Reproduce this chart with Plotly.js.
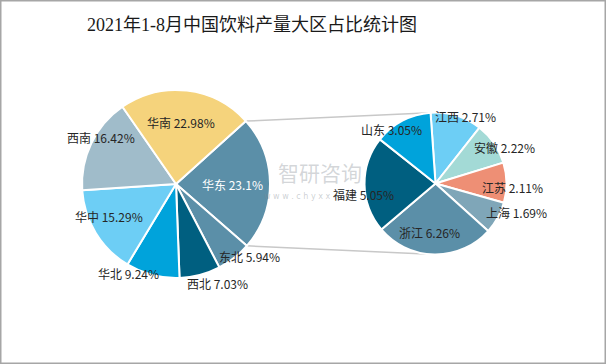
<!DOCTYPE html>
<html>
<head>
<meta charset="utf-8">
<script src="https://cdn.plot.ly/plotly-3.0.1.min.js"></script>
<style>
html,body{margin:0;padding:0;background:#fff;}
#chart{width:606px;height:364px;}
</style>
</head>
<body>
<div id="chart"></div>
<script>
// ---- data ----
const regionLabels = ['华东', '东北', '西北', '华北', '华中', '西南', '华南'];
const regionValues = [23.1, 5.94, 7.03, 9.24, 15.29, 16.42, 22.98];
const provinceLabels = ['江西', '安徽', '江苏', '上海', '浙江', '福建', '山东'];
const provinceValues = [2.71, 2.22, 2.11, 1.69, 6.26, 5.05, 3.05];
const titleText = '2021年1-8月中国饮料产量大区占比统计图';

// ---- styles ----
const W = 606, H = 364;
const regionColors = ['#5B8FA8', '#5B8FA8', '#005F80', '#00A3DB', '#6DCEF5', '#A0BCCA', '#F5D37C'];
const provinceColors = ['#6DCEF5', '#A3DAD6', '#EE8F75', '#7FA6B8', '#5B8FA8', '#005F80', '#00A3DB'];
const leftGeo = {cx: 176, cy: 184, r: 94, rotation: 48};
const rightGeo = {cx: 435.5, cy: 183.5, r: 71, rotation: -4};
// label placement per slice: [angle tweak (deg), radius factor]
const leftLabelPos = [[1, 0.60], [-7, 1.10], [-8, 1.15], [13.5, 1.08], [5.5, 0.79], [6, 0.94], [-2, 0.66]];
const rightLabelPos = [[7, 1.04], [7, 1.09], [4, 1.08], [-9, 1.21], [6.5, 0.70], [-8, 1.02], [-11, 0.98]];
const leftTextColors = ['#ffffff', '#262626', '#262626', '#262626', '#262626', '#262626', '#262626'];
const labelFont = 'Noto Sans CJK SC, Noto Sans, sans-serif';

function domainOf(g) {
  return {
    x: [(g.cx - g.r) / W, (g.cx + g.r) / W],
    y: [1 - (g.cy + g.r) / H, 1 - (g.cy - g.r) / H]
  };
}
function pt(g, angDeg, f) {
  const a = angDeg * Math.PI / 180;
  const px = g.cx + f * g.r * Math.sin(a);
  const py = g.cy - f * g.r * Math.cos(a);
  return [px / W, 1 - py / H];
}
function fmt(v) { return v + '%'; }

const traces = [
  {
    type: 'pie', labels: regionLabels, values: regionValues, sort: false,
    direction: 'clockwise', rotation: leftGeo.rotation, domain: domainOf(leftGeo),
    marker: {colors: regionColors, line: {color: '#ffffff', width: 2}},
    textinfo: 'none', hoverinfo: 'label+percent', showlegend: false
  },
  {
    type: 'pie', labels: provinceLabels, values: provinceValues, sort: false,
    direction: 'clockwise', rotation: rightGeo.rotation, domain: domainOf(rightGeo),
    marker: {colors: provinceColors, line: {color: '#ffffff', width: 2}},
    textinfo: 'none', hoverinfo: 'label+value', showlegend: false
  }
];

const annotations = [];
function addLabels(labels, values, g, placements, colors) {
  const total = values.reduce((a, b) => a + b, 0);
  let start = g.rotation;
  labels.forEach((lab, i) => {
    const span = values[i] / total * 360;
    const mid = start + span / 2;
    const p = pt(g, mid + placements[i][0], placements[i][1]);
    annotations.push({
      xref: 'paper', yref: 'paper', x: p[0], y: p[1],
      xanchor: 'center', yanchor: 'middle', showarrow: false,
      text: lab + ' ' + fmt(values[i]),
      font: {family: labelFont, size: 12, color: colors ? colors[i] : '#262626'}
    });
    start += span;
  });
}
addLabels(regionLabels, regionValues, leftGeo, leftLabelPos, leftTextColors);
addLabels(provinceLabels, provinceValues, rightGeo, rightLabelPos, null);

// watermark
annotations.push({xref: 'paper', yref: 'paper', x: 320 / W, y: 1 - 172 / H, showarrow: false,
  text: '智研咨询', font: {family: labelFont, size: 21, color: 'rgba(130,138,146,0.35)'}});
annotations.push({xref: 'paper', yref: 'paper', x: 262 / W, xanchor: 'left', y: 1 - 196 / H, showarrow: false,
  text: 'w w w . c h y x x', font: {family: 'DejaVu Sans, sans-serif', size: 8, color: 'rgba(130,138,146,0.4)'}});

// connector lines from the first (exploded) region slice to the secondary pie
const regionTotal = regionValues.reduce((a, b) => a + b, 0);
const a0 = leftGeo.rotation;
const a1 = leftGeo.rotation + regionValues[0] / regionTotal * 360;
const p0 = pt(leftGeo, a0, 1), p1 = pt(leftGeo, a1, 1);
const rTop = pt(rightGeo, rightGeo.rotation, 1);
const rBot = pt(rightGeo, 180 - rightGeo.rotation, 1);

const shapes = [
  {type: 'line', xref: 'paper', yref: 'paper', x0: p0[0], y0: p0[1], x1: rTop[0], y1: rTop[1],
   line: {color: '#C8C8C8', width: 1.5}, layer: 'below'},
  {type: 'line', xref: 'paper', yref: 'paper', x0: p1[0], y0: p1[1], x1: rBot[0], y1: rBot[1],
   line: {color: '#C8C8C8', width: 1.5}, layer: 'below'},
  {type: 'rect', xref: 'paper', yref: 'paper', x0: 0, y0: 0, x1: 1, y1: 1,
   line: {color: '#A6A6A6', width: 3}, fillcolor: 'rgba(0,0,0,0)', layer: 'above'}
];

const layout = {
  width: W, height: H,
  margin: {l: 0, r: 0, t: 0, b: 0, pad: 0},
  paper_bgcolor: '#ffffff', plot_bgcolor: '#ffffff',
  showlegend: false,
  title: {text: titleText, x: 252 / W, xanchor: 'center', y: 1 - 25 / H, yanchor: 'middle',
          font: {family: 'Liberation Serif, Noto Sans CJK SC, serif', size: 18, color: '#1a1a1a'}},
  annotations: annotations,
  shapes: shapes
};

Plotly.newPlot('chart', traces, layout, {displayModeBar: false, staticPlot: true});
</script>
</body>
</html>
